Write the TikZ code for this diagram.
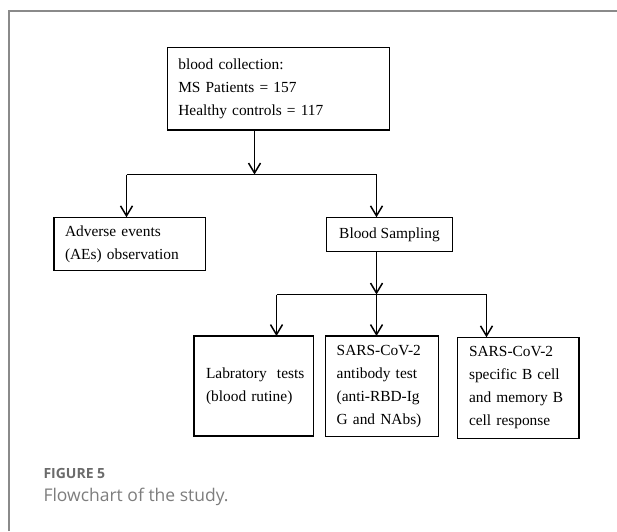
\documentclass[tikz,border=0pt]{standalone}
\usepackage{fontspec}
\setmainfont{Liberation Serif}
\newfontfamily\capfont{Open Sans}
\usetikzlibrary{arrows.meta}
\definecolor{framegray}{HTML}{8A8A8A}
\definecolor{capgray}{HTML}{6B6B6B}
\definecolor{capgrayb}{HTML}{7D7D7D}
\begin{document}
\begin{tikzpicture}[x=1pt,y=-1pt,
  boxnode/.style={draw, line width=1.5pt, inner xsep=11pt, inner ysep=0pt, outer sep=0pt,
    font=\fontsize{15.4}{23}\selectfont, align=left},
  arr/.style={line width=1.5pt, -{Straight Barb[length=10pt,width=12pt,line width=1.5pt]}},
  conn/.style={line width=1.5pt},
  captitle/.style={anchor=base west, inner sep=0pt, text=capgray, font=\capfont\bfseries\fontsize{14}{16}\selectfont},
  captext/.style={anchor=base west, inner sep=0pt, text=capgrayb, font=\capfont\fontsize{17.5}{20}\selectfont}
]
\useasboundingbox (0,0) rectangle (617,531);
% frame
\draw[framegray, line width=1.7pt] (9.3,531) -- (9.3,11) -- (617,11);

% boxes
\node[boxnode, minimum width=222pt, minimum height=82.7pt, text width=200pt] (top) at (278.3,88.65)
  {blood collection:\\MS Patients = 157\\Healthy controls = 117};
\node[boxnode, minimum width=151.7pt, minimum height=53.4pt, text width=129.7pt] (ae) at (129.85,244)
  {Adverse events\\(AEs) observation};
\node[boxnode, minimum width=125.6pt, minimum height=34.4pt, align=center] (bs) at (389.5,234.5)
  {Blood Sampling};
\node[boxnode, minimum width=119.3pt, minimum height=100pt, inner xsep=12pt, text width=95.3pt] (lab) at (253.65,386)
  {Labratory~~tests\\(blood rutine)};
\node[boxnode, minimum width=113pt, minimum height=100.7pt, text width=91pt] (ab) at (382.2,386.35)
  {SARS-CoV-2\\antibody test\\(anti-RBD-Ig\\G and NAbs)};
\node[boxnode, minimum width=121.7pt, minimum height=101.4pt, inner xsep=11.7pt, text width=98.3pt] (bc) at (518.15,388)
  {SARS-CoV-2\\specific B cell\\and memory B\\cell response};

% junctions
\coordinate (j1) at (254.5,174.5);
\coordinate (j1l) at (126.5,174.5);
\coordinate (j1r) at (376.5,174.5);
\coordinate (j2) at (376.5,294.5);
\coordinate (j2l) at (276.5,294.5);
\coordinate (j2m) at (376.5,294.5);
\coordinate (j2r) at (486.5,294.5);

% connectors
\draw[arr] (top.south -| j1) -- (j1);
\draw[conn] (j1l) -- (j1r);
\draw[arr] (j1l) -- (ae.north -| j1l);
\draw[arr] (j1r) -- (bs.north -| j1r);
\draw[arr] (bs.south -| j2) -- (j2);
\draw[conn] (j2l) -- (j2r);
\draw[arr] (j2l) -- (lab.north -| j2l);
\draw[arr] (j2m) -- (ab.north -| j2m);
\draw[arr] (j2r) -- (bc.north -| j2r);

% caption
\node[captitle] (figlabel) at (43.3,478.3) {FIGURE 5};
\node[captext] (figcap) at (43.3,501.7) {Flowchart of the study.};
\end{tikzpicture}
\end{document}
